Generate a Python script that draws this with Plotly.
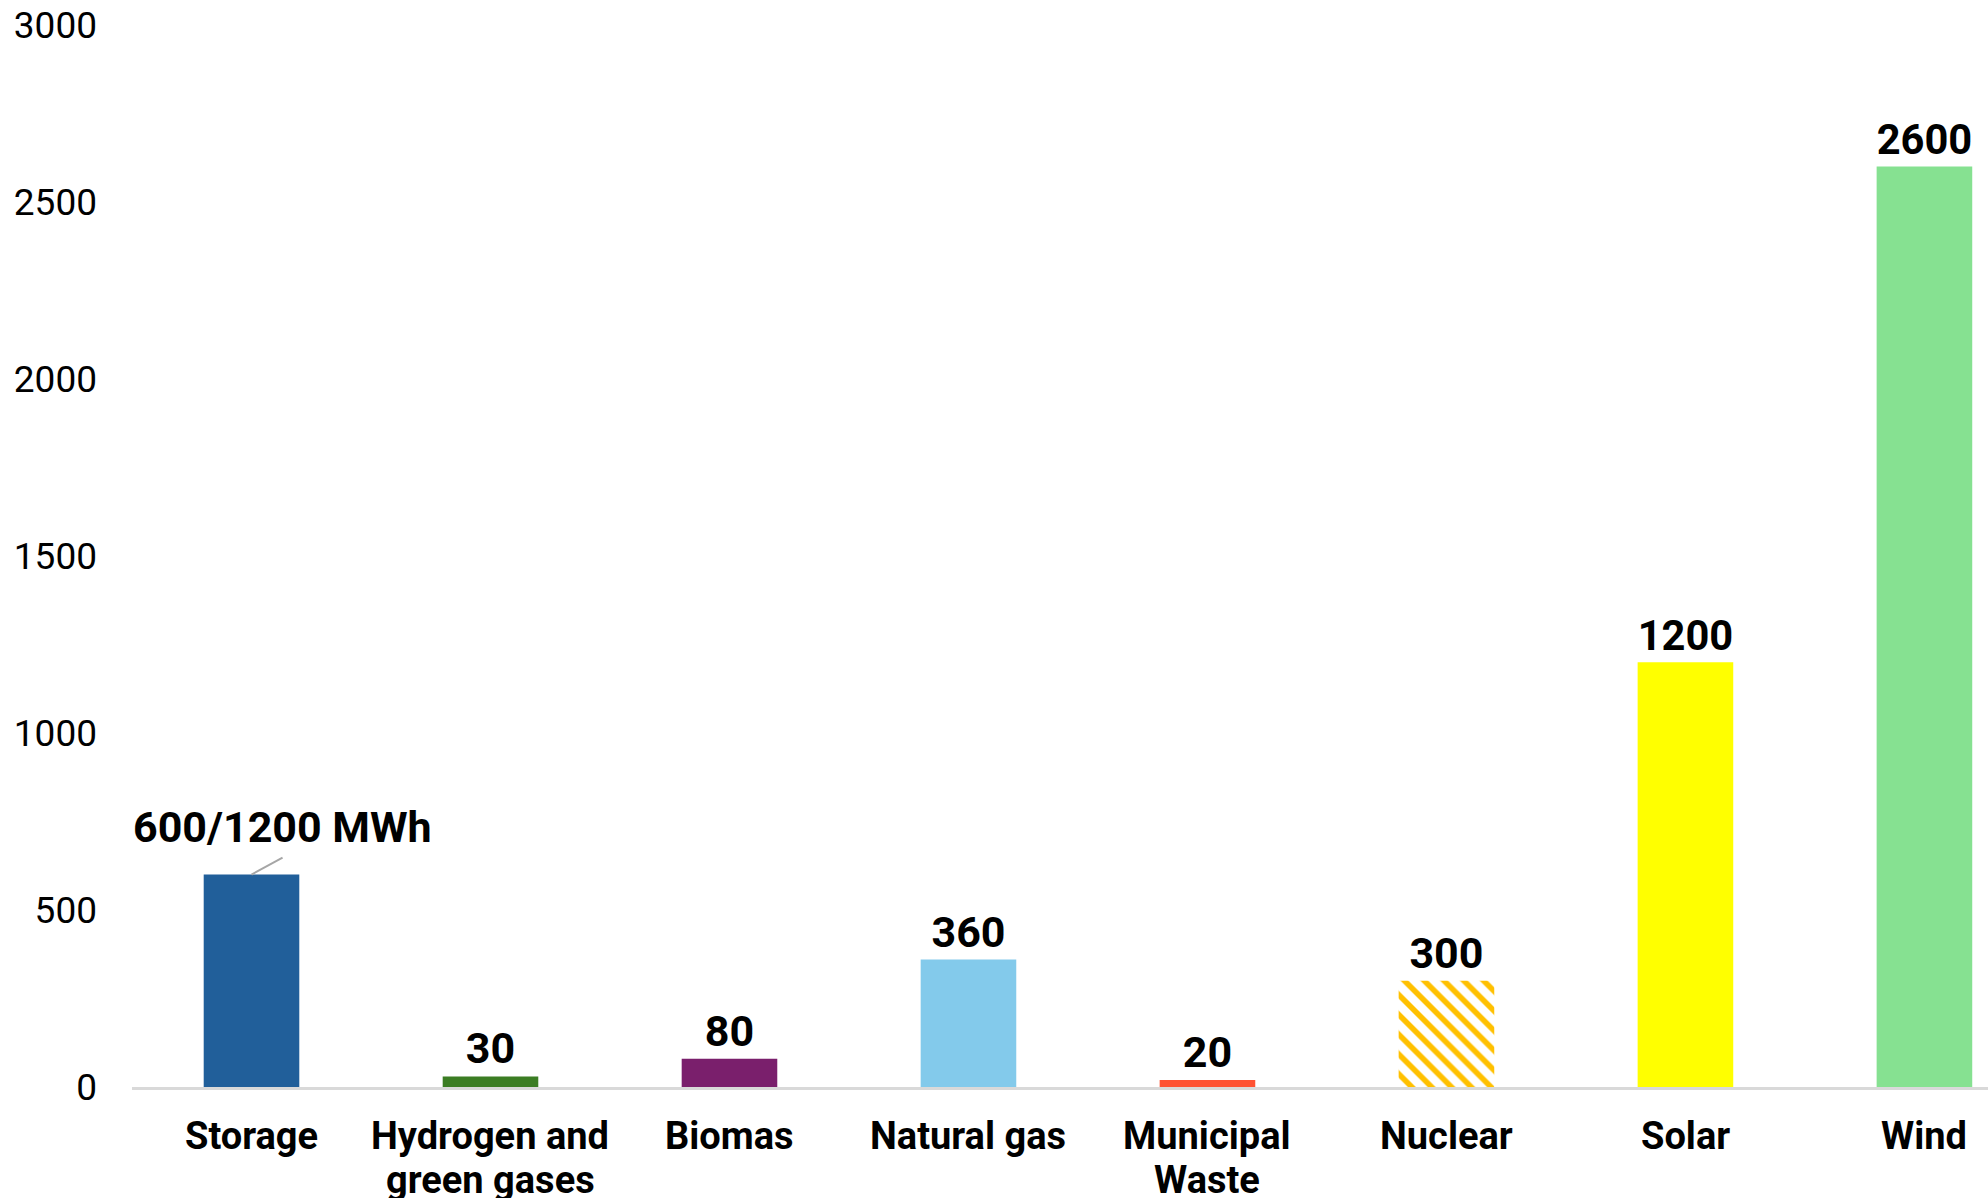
import plotly.graph_objects as go

# Installed capacity by technology (MW)
categories = ["Storage", "Hydrogen and<br>green gases", "Biomas", "Natural gas",
              "Municipal<br>Waste", "Nuclear", "Solar", "Wind"]
values = [600, 30, 80, 360, 20, 300, 1200, 2600]
value_labels = ["", "30", "80", "360", "20", "300", "1200", "2600"]
storage_label = "600/1200 MWh"

colors = ["#215F9A", "#3B7D23", "#7A1F6C", "#83CAEB",
          "#FF5233", "#FFC000", "#FFFF00", "#86E191"]
patterns = ["", "", "", "", "", "\\", "", ""]

y_ticks = [0, 500, 1000, 1500, 2000, 2500, 3000]

FONT = "Roboto"
x_pos = list(range(len(categories)))

fig = go.Figure()
fig.add_trace(go.Bar(
    x=x_pos,
    y=values,
    width=0.4,
    marker=dict(
        color=colors,
        line=dict(width=0),
        pattern=dict(shape=patterns, fgcolor=colors, bgcolor="#FFFFFF",
                     size=14, solidity=0.4, fillmode="replace"),
    ),
    text=value_labels,
    textposition="outside",
    cliponaxis=False,
    textfont=dict(family=FONT, size=43, color="#000000", weight="bold"),
    hoverinfo="skip",
))

# Leader line and label for the storage bar
leader_dx = 0.13
leader_top = values[0] + 48
fig.add_shape(type="line", xref="x", yref="y",
              x0=0, y0=values[0], x1=leader_dx, y1=leader_top,
              line=dict(color="#A6A6A6", width=2))
fig.add_annotation(x=leader_dx, y=leader_top, xref="x", yref="y",
                   text=storage_label, showarrow=False,
                   xanchor="center", yanchor="bottom", yshift=4,
                   font=dict(family=FONT, size=43, color="#000000", weight="bold"))

# Category labels below the axis, drawn line by line for tight leading
LINE_PITCH = 44
for xi, label in zip(x_pos, categories):
    for li, line in enumerate(label.split("<br>")):
        fig.add_annotation(x=xi, y=0, xref="x", yref="paper",
                           text=line, showarrow=False,
                           xanchor="center", yanchor="middle",
                           yshift=-49 - li * LINE_PITCH,
                           font=dict(family=FONT, size=38, color="#000000",
                                     weight="bold"))

fig.update_layout(
    width=1988, height=1198,
    margin=dict(l=132, r=0, t=25, b=111),
    paper_bgcolor="#FFFFFF", plot_bgcolor="#FFFFFF",
    showlegend=False,
    bargap=0.6,
    font=dict(family=FONT, color="#000000"),
)
fig.update_xaxes(
    range=[-0.5, 7.266],
    automargin=False,
    showticklabels=False,
    showline=True, linecolor="#D9D9D9", linewidth=3,
    showgrid=False, zeroline=False, ticks="",
)
fig.update_yaxes(
    range=[0, 3000],
    automargin=False,
    tickmode="array",
    tickvals=y_ticks,
    ticktext=[str(v) for v in y_ticks],
    tickfont=dict(family=FONT, size=37, color="#000000"),
    showline=False, showgrid=False, zeroline=False, ticks="",
    ticklabelstandoff=34,
)

fig.write_html("out.html")
